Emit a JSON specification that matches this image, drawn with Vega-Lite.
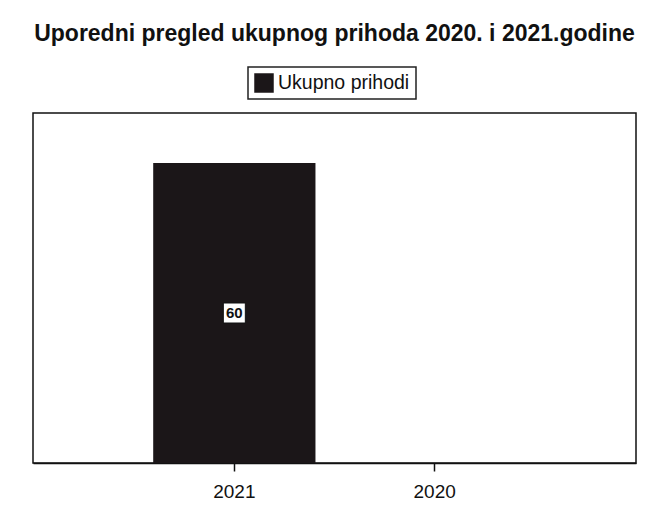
{
  "$schema": "https://vega.github.io/schema/vega-lite/v6.json",
  "autosize": {"type": "none"},
  "width": 603,
  "height": 350,
  "padding": {"left": 33, "top": 113, "right": 16, "bottom": 61},
  "background": "white",
  "title": {
    "text": "Uporedni pregled ukupnog prihoda 2020. i 2021.godine",
    "font": "Liberation Sans",
    "fontSize": 23,
    "fontWeight": "bold",
    "color": "#111",
    "offset": 20,
    "anchor": "middle"
  },
  "data": {
    "values": [
      {"godina": "2021", "serija": "Ukupno prihodi", "value": 60},
      {"godina": "2020", "serija": "Ukupno prihodi", "value": 0}
    ]
  },
  "encoding": {
    "x": {
      "field": "godina",
      "type": "nominal",
      "sort": ["2021", "2020"],
      "scale": {"paddingInner": 0.19, "paddingOuter": 0.6},
      "axis": {
        "title": null,
        "labelAngle": 0,
        "labelFont": "Liberation Sans",
        "labelFontSize": 19,
        "labelColor": "#111",
        "labelPadding": 11,
        "domainColor": "#111",
        "domainWidth": 1.5,
        "tickColor": "#111",
        "tickSize": 8,
        "tickWidth": 1.5,
        "grid": false
      }
    }
  },
  "layer": [
    {
      "mark": {"type": "bar", "color": "#1b1618"},
      "encoding": {
        "y": {"field": "value", "type": "quantitative", "scale": {"domain": [0, 70]}, "axis": null},
        "color": {
          "field": "serija",
          "type": "nominal",
          "scale": {"range": ["#1b1618"]},
          "legend": {
            "title": null,
            "orient": "none",
            "legendX": 215,
            "legendY": -46,
            "symbolType": "square",
            "symbolSize": 380,
            "symbolStrokeWidth": 0,
            "labelFont": "Liberation Sans",
            "labelFontSize": 19.5,
            "labelColor": "#111",
            "labelOffset": 4,
            "strokeColor": "#222",
            "padding": 6
          }
        }
      }
    },
    {
      "transform": [{"filter": "datum.value > 0"}, {"calculate": "datum.value / 2", "as": "sredina"}],
      "mark": {"type": "point", "shape": "M-1.1,-1L1.1,-1L1.1,1L-1.1,1Z", "size": 400, "filled": true, "fill": "white", "stroke": "#111", "strokeWidth": 1, "opacity": 1},
      "encoding": {
        "y": {"field": "sredina", "type": "quantitative", "scale": {"domain": [0, 70]}}
      }
    },
    {
      "transform": [{"filter": "datum.value > 0"}, {"calculate": "datum.value / 2", "as": "sredina"}],
      "mark": {"type": "text", "font": "Liberation Sans", "fontSize": 15, "fontWeight": "bold", "fill": "#111", "baseline": "middle"},
      "encoding": {
        "y": {"field": "sredina", "type": "quantitative", "scale": {"domain": [0, 70]}},
        "text": {"field": "value", "type": "quantitative"}
      }
    }
  ],
  "config": {
    "view": {"stroke": "#111", "strokeWidth": 1.5},
    "legend": {"strokeWidth": 1.5}
  }
}
